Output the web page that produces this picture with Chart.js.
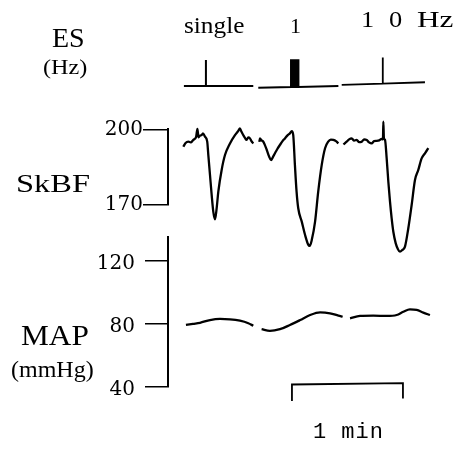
<!DOCTYPE html>
<html>
<head>
<meta charset="utf-8">
<script src="https://cdn.jsdelivr.net/npm/chart.js@4/dist/chart.umd.min.js"></script>
<style>
  html, body { margin: 0; padding: 0; background: #fff; }
  canvas { display: block; }
</style>
</head>
<body>
<canvas id="c" width="467" height="450"></canvas>
<script>
// Time in seconds, values in the units of each trace.

// Electrical stimulation marker (baseline 0, pulse height ~1)
const esSingle = [[8.6, 0.04], [20.5, 0.04], [20.5, 1.02], [20.5, 0.04], [46.1, 0.04]];
const es1Hz = [
  [48.8, -0.03],
  [66.5, 0.0], [66.5, 1.05], [66.5, 0.0],
  [67.5, 0.0], [67.5, 1.05], [67.5, 0.0],
  [68.5, 0.0], [68.5, 1.05], [68.5, 0.0],
  [69.5, 0.0], [69.5, 1.05], [69.5, 0.0],
  [70.5, 0.0], [70.5, 1.05], [70.5, 0.0],
  [92.1, 0.04]
];
const es10Hz = [[93.9, 0.08], [116.1, 0.13], [116.1, 1.12], [116.1, 0.13], [138.9, 0.18]];

// Skin blood flow (SkBF)
const skbfSingle = [
  [8.3, 193.1], [9.5, 194.6], [11.0, 195.1], [12.3, 194.8], [13.7, 195.8], [15.2, 197.0],
  [15.9, 200.2], [16.5, 196.8], [17.3, 197.5], [18.2, 197.7], [18.9, 198.4], [20.0, 197.1],
  [21.2, 195.1], [21.8, 189.8], [22.7, 181.9], [23.6, 174.0], [24.5, 167.3], [25.4, 164.3],
  [26.3, 168.7], [27.2, 175.3], [29.0, 183.9], [30.8, 189.8], [33.5, 194.4], [36.2, 197.7],
  [38.1, 199.5], [38.9, 200.4], [39.6, 199.2], [40.7, 197.7], [41.6, 196.6], [42.5, 195.8],
  [43.4, 196.8], [44.3, 196.4], [45.2, 195.2], [46.1, 194.4]
];
const skbf1Hz = [
  [49.4, 195.0], [49.7, 196.4], [50.6, 195.6], [51.5, 195.1], [53.4, 191.8], [54.6, 189.3],
  [55.7, 187.8], [56.7, 189.0], [57.8, 190.5], [59.1, 192.2], [60.5, 193.8], [61.9, 195.3],
  [63.2, 196.4], [64.6, 197.6], [65.9, 198.4], [66.9, 199.3], [67.7, 197.7], [68.6, 185.9],
  [69.5, 175.3], [70.4, 168.7], [72.3, 163.4], [74.1, 158.1], [75.8, 154.3], [76.6, 153.8],
  [77.7, 156.1], [79.5, 163.4], [81.2, 175.3], [83.1, 185.9], [84.9, 192.5], [86.6, 195.1],
  [88.0, 195.9], [89.4, 195.8], [90.8, 195.3], [92.1, 194.4]
];
const skbf10Hz = [
  [94.8, 194.0], [96.6, 195.1], [97.9, 196.0], [99.3, 196.4], [100.6, 195.5], [102.0, 195.8],
  [103.3, 194.9], [104.7, 195.1], [106.0, 196.0], [107.4, 195.8], [108.7, 194.8], [110.1, 194.4],
  [111.4, 195.3], [112.8, 195.4], [114.2, 195.6], [115.5, 196.2], [116.2, 196.0], [116.4, 203.0],
  [116.7, 196.5], [117.3, 195.8], [118.2, 188.5], [119.1, 179.2], [120.0, 171.3], [120.9, 164.7],
  [121.8, 159.4], [123.1, 154.8], [124.3, 152.5], [125.4, 151.5], [126.7, 152.2], [128.1, 153.5],
  [129.9, 160.8], [131.7, 170.0], [133.5, 179.9], [135.3, 183.9], [137.1, 188.5], [138.9, 190.5],
  [140.7, 192.5]
];

// Mean arterial pressure (mmHg)
const mapSingle = [
  [9.7, 79.1], [13.5, 79.8], [17.3, 80.5], [22.7, 82.2], [28.1, 82.9], [33.5, 82.7],
  [38.9, 81.8], [43.4, 80.2], [46.1, 78.6]
];
const map1Hz = [
  [50.6, 76.4], [55.1, 75.3], [60.5, 76.4], [65.9, 79.1], [71.4, 82.2], [76.8, 85.4],
  [82.2, 87.1], [87.6, 86.5], [92.1, 85.0], [94.4, 84.3]
];
const map10Hz = [
  [98.4, 83.3], [103.8, 84.8], [111.0, 85.0], [118.2, 84.8], [123.6, 85.4], [127.2, 87.5],
  [130.8, 89.0], [134.4, 88.6], [138.0, 86.9], [141.6, 85.4]
];

// Tick labels
const skbfTicks = [170, 200];
const mapTicks = [40, 80, 120];

// 1-min time bar, drawn on the pressure axis
const scaleBar = [[67, 31], [67, 41.4], [127, 42.3], [127, 32.5]];

const SERIF = '"Liberation Serif", "Times New Roman", serif';
const TICK_FONT = '"DejaVu Serif", "Liberation Serif", serif';
const AXIS_W = 70;
const fixWidth = s => { s.width = AXIS_W; };

const pts = a => a.map(([x, y]) => ({ x, y }));
const line = (data, axis, extra) => Object.assign({
  data: pts(data), yAxisID: axis, xAxisID: 'x',
  borderColor: '#000', borderWidth: 2, pointRadius: 0, fill: false, clip: false,
  tension: 0
}, extra || {});
const smooth = { cubicInterpolationMode: 'monotone', borderWidth: 2.3 };

const hiddenAxis = (weight, stackWeight, min, max) => ({
  type: 'linear', position: 'left', stack: 'left', weight, stackWeight, min, max,
  ticks: { display: false }, grid: { display: false }, border: { display: false },
  afterFit: fixWidth
});

const textPlugin = {
  id: 'traceText',
  afterDraw(chart) {
    const { ctx, scales } = chart;
    ctx.save();
    ctx.fillStyle = '#000';
    ctx.textBaseline = 'alphabetic';
    // text at (x, y); sx widens the glyphs horizontally
    const put = (text, x, y, font, opts) => {
      const o = opts || {};
      ctx.save();
      ctx.font = font;
      if ('letterSpacing' in ctx) ctx.letterSpacing = (o.spacing || 0) + 'px';
      ctx.textAlign = o.align || 'left';
      ctx.translate(x, y);
      ctx.scale(o.sx || 1, 1);
      ctx.fillText(text, 0, 0);
      ctx.restore();
    };
    // row titles
    put('ES', 52, 47, `28px ${SERIF}`);
    put('(Hz)', 43, 74, `21px ${SERIF}`, { sx: 1.15 });
    put('SkBF', 16, 192, `26px ${SERIF}`, { sx: 1.25 });
    put('MAP', 21, 345, `29px ${SERIF}`, { sx: 1.08 });
    put('(mmHg)', 11, 377, `24px ${SERIF}`);
    // stimulation frequencies
    put('single', 184, 33, `23px ${SERIF}`, { sx: 1.1 });
    put('1', 295.5, 33, `22px ${SERIF}`, { align: 'center' });
    put('1', 367.5, 27, `24px ${SERIF}`, { align: 'center', sx: 1.1 });
    put('0', 395.5, 27, `24px ${SERIF}`, { align: 'center', sx: 1.1 });
    put('Hz', 417, 27, `24px ${SERIF}`, { sx: 1.3 });
    // time bar label
    const barMid = scales.x.getPixelForValue((scaleBar[0][0] + scaleBar[scaleBar.length - 1][0]) / 2);
    put('1 min', barMid + 1, 438, `22px "Liberation Mono", "DejaVu Sans Mono", monospace`, { align: 'center', spacing: 1 });
    ctx.restore();
  }
};

new Chart(document.getElementById('c'), {
  type: 'line',
  data: {
    datasets: [
      line(esSingle, 'yEs'),
      line(es1Hz, 'yEs'),
      line(es10Hz, 'yEs', { borderWidth: 1.8 }),
      line(skbfSingle, 'ySk', smooth),
      line(skbf1Hz, 'ySk', smooth),
      line(skbf10Hz, 'ySk', smooth),
      line(mapSingle, 'yMap', smooth),
      line(map1Hz, 'yMap', smooth),
      line(map10Hz, 'yMap', smooth),
      line(scaleBar, 'yMap', { borderWidth: 1.8 })
    ]
  },
  options: {
    responsive: false,
    animation: false,
    devicePixelRatio: 1,
    layout: { padding: { left: 98, right: 21.5, top: 50, bottom: 43 } },
    plugins: { legend: { display: false }, tooltip: { enabled: false }, title: { display: false } },
    scales: {
      x: { type: 'linear', min: 0, max: 150, display: false },
      yEs: hiddenAxis(5, 79.3, -1.6, 1.4),
      ySk: {
        type: 'linear', position: 'left', stack: 'left', weight: 4, stackWeight: 75.7,
        min: 170, max: 200,
        afterBuildTicks: s => { s.ticks = skbfTicks.map(value => ({ value })); },
        ticks: { font: { family: TICK_FONT, size: 20 }, color: '#000', padding: 0 },
        grid: { drawOnChartArea: false, drawTicks: true, tickLength: 25, color: '#000', lineWidth: 1.5 },
        border: { display: true, color: '#000', width: 2 },
        afterFit: fixWidth
      },
      yGap: hiddenAxis(3, 31.7, 0, 1),
      yMap: {
        type: 'linear', position: 'left', stack: 'left', weight: 2, stackWeight: 150,
        min: 40, max: 135,
        afterBuildTicks: s => { s.ticks = mapTicks.map(value => ({ value })); },
        ticks: { font: { family: TICK_FONT, size: 20 }, color: '#000', padding: 10, labelOffset: 3 },
        grid: { drawOnChartArea: false, drawTicks: true, tickLength: 23, color: '#000', lineWidth: 1.5 },
        border: { display: true, color: '#000', width: 2 },
        afterFit: fixWidth
      },
      yFoot: hiddenAxis(1, 20.3, 0, 1)
    }
  },
  plugins: [textPlugin]
});
</script>
</body>
</html>
